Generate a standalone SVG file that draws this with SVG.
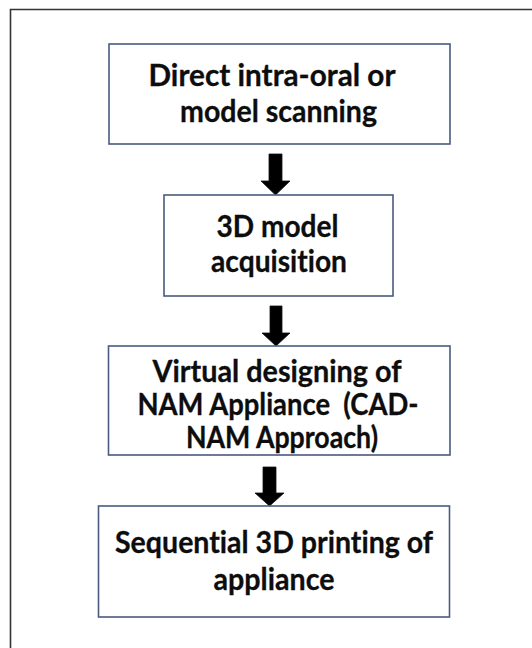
<svg xmlns="http://www.w3.org/2000/svg" width="532" height="648" viewBox="0 0 532 648">
<style>
.box{fill:#ffffff;stroke:#4a5b7f;stroke-width:1.6}
.t{font-family:Lato,"Open Sans","Liberation Sans",sans-serif;font-weight:bold;font-size:29.5px;fill:#0d0d0d;stroke:#0d0d0d;stroke-width:0.3;text-anchor:middle;font-variant-ligatures:none;white-space:pre}
.arr{fill:#000000;stroke:#111111;stroke-width:0.8}
</style>
<rect x="0" y="0" width="532" height="648" fill="#ffffff"/>
<path d="M10.5,648 V9.5 H532" fill="none" stroke="#333333" stroke-width="1.6"/>
<g id="connectors">
<path class="arr" d="M269,154 H282 V181 H290 L275.5,195 L261,181 H269 Z"/>
<path class="arr" d="M270,306 H282 V333 H290 L276,346 L262,333 H270 Z"/>
<path class="arr" d="M263,467 H276 V493 H284 L269.5,506 L255,493 H263 Z"/>
</g>
<g id="node1">
<rect class="box" x="109" y="44" width="341" height="100"/>
<text class="t" x="272" y="86" textLength="247" lengthAdjust="spacingAndGlyphs">Direct intra-oral or</text>
<text class="t" x="278.5" y="122" textLength="197" lengthAdjust="spacingAndGlyphs">model scanning</text>
</g>
<g id="node2">
<rect class="box" x="164" y="195" width="229" height="101"/>
<text class="t" x="277.5" y="237" textLength="122" lengthAdjust="spacingAndGlyphs">3D model</text>
<text class="t" x="279" y="272" textLength="136" lengthAdjust="spacingAndGlyphs">acquisition</text>
</g>
<g id="node3">
<rect class="box" x="108.5" y="346" width="341.5" height="109"/>
<text class="t" x="277" y="382" textLength="249" lengthAdjust="spacingAndGlyphs">Virtual designing of</text>
<text class="t" x="278" y="415" textLength="281" lengthAdjust="spacingAndGlyphs" xml:space="preserve">NAM Appliance  (CAD-</text>
<text class="t" x="282" y="448" textLength="192" lengthAdjust="spacingAndGlyphs">NAM Approach)</text>
</g>
<g id="node4">
<rect class="box" x="98.5" y="506" width="351" height="111"/>
<text class="t" x="274" y="553" textLength="318" lengthAdjust="spacingAndGlyphs">Sequential 3D printing of</text>
<text class="t" x="274" y="590" textLength="121" lengthAdjust="spacingAndGlyphs">appliance</text>
</g>
</svg>
